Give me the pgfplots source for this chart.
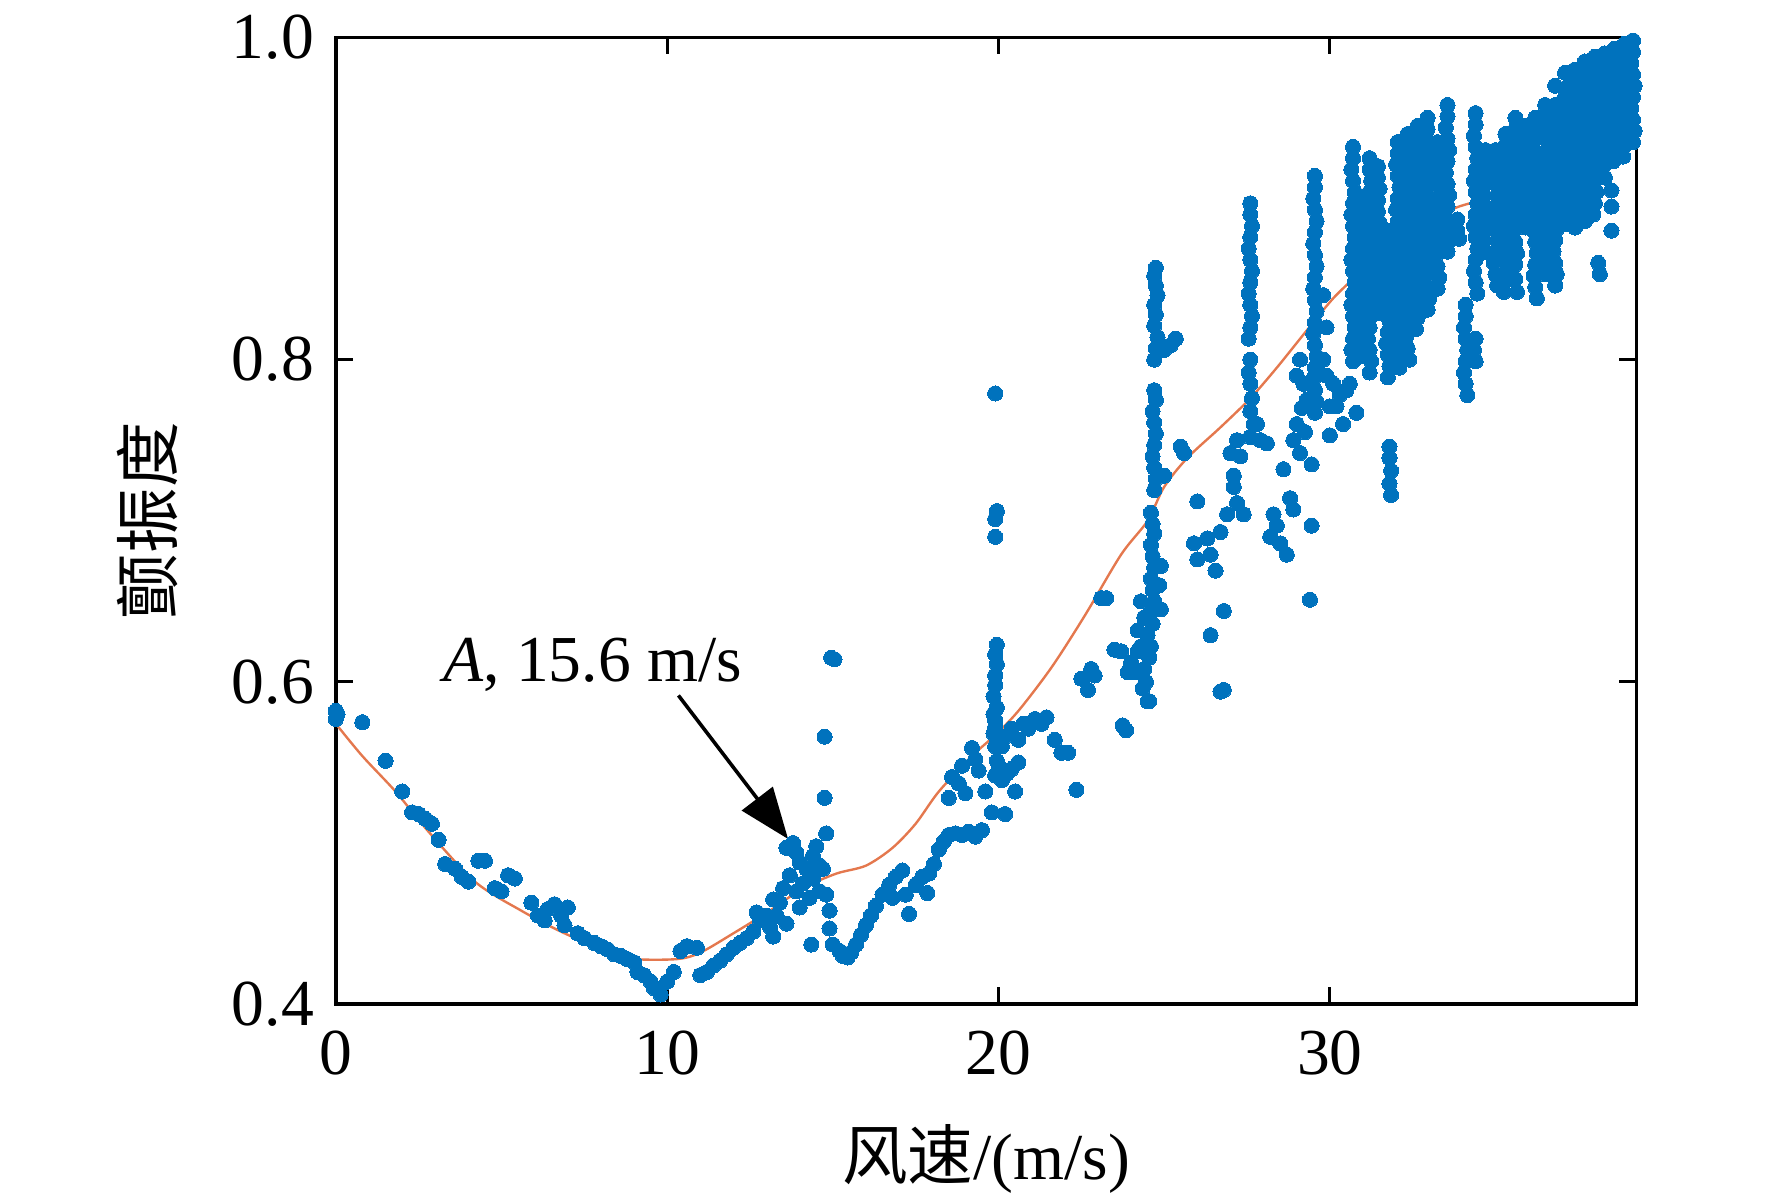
\documentclass[border=0pt]{standalone}
\usepackage{pgfplots}
\pgfplotsset{compat=1.18}
\usetikzlibrary{arrows.meta}
\usepackage{fontspec}
\setmainfont{Liberation Serif}
\newfontfamily\cjk{Noto Sans CJK SC}
\definecolor{mblue}{RGB}{0,114,189}
\definecolor{morange}{RGB}{228,120,78}
\begin{document}
\begin{tikzpicture}
\path[use as bounding box] (-29.7mm,-17.05mm) rectangle (127mm,88.8mm);
\begin{axis}[
  scale only axis, width=115mm, height=85.5mm,
  xmin=0, xmax=39.25, ymin=0.4, ymax=1.0,
  xtick={0,10,20,30}, ytick={0.4,0.6,0.8,1.0},
  yticklabel style={xshift=-0.7mm, /pgf/number format/.cd, fixed, fixed zerofill, precision=1},
  xticklabel style={yshift=-1.1mm},
  /pgf/number format/assume math mode=true,
  tick align=inside, major tick length=1.5mm,
  tick style={line width=0.8pt, black},
  axis line style={line width=0.9pt},
  tick label style={font=\fontsize{16.5}{19}\selectfont},
  label style={font=\fontsize{16.5}{19}\selectfont},
  xlabel={{\cjk 风速}/(m/s)},
  ylabel={{\cjk 颤振度}},
  xlabel style={at={(axis description cs:0.5,-0.16)}, anchor=center},
  ylabel style={at={(axis description cs:-0.145,0.5)}, anchor=center, rotate=0},
]
\addplot[only marks, mark=*, mark size=1.9pt, color=mblue, mark options={draw=mblue, fill=mblue, line width=0pt}] table[row sep=\\] {
x y\\
0 0.582\\ 0 0.577\\ 0.05 0.580\\ 0.8 0.575\\ 1.5 0.551\\ 2.0 0.532\\ 2.3 0.519\\ 2.5 0.518\\ 2.7 0.515\\ 2.9 0.512\\
3.1 0.502\\ 3.3 0.487\\ 3.6 0.484\\ 3.8 0.479\\ 4.0 0.476\\ 4.3 0.489\\ 4.5 0.489\\ 4.8 0.472\\ 5.0 0.470\\ 5.2 0.480\\
5.4 0.478\\ 5.9 0.463\\ 6.1 0.455\\ 6.3 0.452\\ 6.4 0.459\\ 6.6 0.462\\ 6.8 0.455\\ 6.9 0.449\\ 7.0 0.460\\ 7.3 0.444\\
7.5 0.441\\ 7.8 0.438\\ 8.0 0.436\\ 8.2 0.434\\ 8.4 0.431\\ 8.6 0.430\\ 8.8 0.428\\ 9.0 0.426\\ 9.1 0.420\\ 9.3 0.418\\
9.5 0.414\\ 9.6 0.410\\ 9.8 0.406\\ 10.0 0.414\\ 10.2 0.420\\ 10.4 0.433\\ 10.6 0.436\\ 10.9 0.435\\ 11.0 0.418\\ 11.2 0.420\\
11.4 0.424\\ 11.6 0.427\\ 11.8 0.431\\ 12.0 0.435\\ 12.2 0.438\\ 12.4 0.441\\ 12.6 0.445\\ 12.8 0.452\\ 12.7 0.457\\ 13.0 0.455\\
13.1 0.448\\ 13.2 0.465\\ 13.4 0.463\\
13.6 0.497\\ 13.8 0.500\\ 13.9 0.494\\ 14.0 0.488\\ 14.2 0.484\\ 14.1 0.475\\ 13.9 0.470\\ 13.7 0.480\\ 14.4 0.492\\ 14.5 0.498\\
14.6 0.486\\ 14.4 0.478\\ 14.6 0.470\\ 14.3 0.466\\ 14.0 0.460\\ 13.5 0.472\\ 13.3 0.455\\ 13.6 0.450\\ 13.2 0.442\\ 14.35 0.437\\
14.95 0.615\\ 15.05 0.614\\ 14.75 0.566\\ 14.75 0.528\\ 14.8 0.506\\ 14.7 0.484\\ 14.8 0.468\\ 14.9 0.458\\ 14.9 0.447\\
15.0 0.437\\ 15.2 0.433\\ 15.3 0.430\\ 15.45 0.429\\ 15.55 0.432\\ 15.7 0.437\\ 15.85 0.443\\ 16.0 0.449\\ 16.15 0.455\\ 16.3 0.461\\
16.5 0.468\\ 16.7 0.474\\ 16.9 0.479\\ 17.1 0.483\\ 16.8 0.466\\ 17.2 0.468\\ 17.3 0.456\\ 17.5 0.474\\ 17.7 0.479\\ 17.85 0.469\\
17.9 0.481\\ 18.05 0.487\\ 18.2 0.496\\ 18.35 0.501\\ 18.5 0.505\\ 18.7 0.506\\ 18.9 0.505\\ 19.1 0.507\\ 19.3 0.504\\ 19.5 0.508\\
18.5 0.528\\ 18.6 0.541\\ 18.8 0.537\\ 18.9 0.548\\ 19.0 0.531\\ 19.2 0.559\\ 19.3 0.552\\ 19.4 0.545\\ 19.6 0.532\\ 19.8 0.519\\
19.9 0.542\\ 19.95 0.551\\ 19.9 0.560\\ 19.85 0.568\\ 19.9 0.576\\ 19.95 0.584\\ 19.85 0.591\\ 19.9 0.598\\ 19.9 0.604\\ 19.95 0.611\\
19.9 0.617\\ 19.95 0.623\\ 19.9 0.572\\ 19.85 0.580\\ 19.9 0.690\\ 19.9 0.701\\ 19.95 0.706\\ 19.9 0.779\\
20.1 0.560\\ 20.2 0.566\\ 20.4 0.571\\ 20.6 0.564\\ 20.75 0.574\\ 20.9 0.571\\ 21.1 0.577\\ 21.3 0.574\\ 21.45 0.578\\ 20.1 0.539\\
20.25 0.543\\ 20.4 0.546\\ 20.6 0.550\\ 20.5 0.532\\ 20.2 0.518\\ 20.0 0.548\\ 21.7 0.564\\ 21.9 0.556\\ 22.1 0.556\\ 22.35 0.533\\
22.5 0.602\\ 22.7 0.595\\ 22.8 0.608\\ 22.9 0.604\\ 23.1 0.652\\ 23.25 0.652\\ 23.5 0.620\\ 23.7 0.619\\ 23.75 0.573\\ 23.85 0.570\\
23.9 0.606\\ 24.0 0.612\\ 24.1 0.606\\ 24.2 0.619\\ 24.3 0.622\\ 24.5 0.588\\
24.75 0.857\\ 24.7 0.852\\ 24.75 0.846\\ 24.8 0.840\\ 24.7 0.834\\ 24.75 0.828\\ 24.7 0.821\\ 24.8 0.814\\ 24.75 0.807\\ 24.7 0.800\\
24.7 0.781\\ 24.75 0.775\\ 24.65 0.768\\ 24.7 0.761\\ 24.75 0.754\\ 24.7 0.747\\ 24.65 0.740\\ 24.7 0.733\\ 24.75 0.726\\ 24.7 0.719\\
24.6 0.705\\ 24.65 0.698\\ 24.7 0.692\\ 24.6 0.685\\ 24.65 0.678\\ 24.7 0.671\\ 24.6 0.664\\ 24.65 0.657\\ 24.7 0.650\\ 24.6 0.643\\
24.65 0.636\\ 24.5 0.629\\ 24.6 0.622\\ 24.55 0.615\\ 24.4 0.608\\ 24.45 0.600\\ 24.35 0.596\\
24.9 0.672\\ 24.85 0.660\\ 24.9 0.645\\ 24.4 0.640\\ 24.3 0.650\\ 24.2 0.632\\ 24.55 0.588\\
25.0 0.806\\ 25.2 0.809\\ 25.35 0.813\\ 25.5 0.746\\ 25.6 0.742\\ 25.0 0.728\\
25.9 0.686\\ 26.0 0.676\\ 26.3 0.689\\ 26.4 0.679\\ 26.55 0.669\\ 26.7 0.693\\ 26.8 0.644\\ 26.4 0.629\\ 26.7 0.594\\ 26.8 0.595\\
26.9 0.704\\ 27.1 0.721\\ 27.1 0.728\\ 27.2 0.711\\ 27.4 0.704\\ 27.3 0.740\\ 27.0 0.742\\ 27.2 0.750\\ 26.0 0.712\\
27.6 0.897\\ 27.6 0.890\\ 27.65 0.883\\ 27.6 0.876\\ 27.55 0.869\\ 27.6 0.862\\ 27.65 0.855\\ 27.6 0.848\\ 27.55 0.841\\ 27.6 0.834\\
27.65 0.827\\ 27.6 0.820\\ 27.55 0.813\\ 27.6 0.800\\ 27.55 0.792\\ 27.6 0.785\\ 27.65 0.776\\ 27.6 0.768\\ 27.7 0.760\\ 27.6 0.752\\
27.8 0.760\\ 27.9 0.750\\ 28.1 0.748\\ 28.6 0.732\\ 28.3 0.704\\ 28.4 0.697\\ 28.7 0.679\\ 28.5 0.686\\ 28.9 0.707\\ 28.8 0.714\\ 28.2 0.690\\
29.0 0.790\\ 29.1 0.800\\ 29.2 0.785\\ 29.15 0.770\\ 29.0 0.760\\ 29.3 0.775\\ 29.25 0.755\\ 28.9 0.750\\ 29.1 0.742\\
29.55 0.914\\ 29.55 0.907\\ 29.5 0.900\\ 29.55 0.893\\ 29.6 0.886\\ 29.55 0.879\\ 29.5 0.872\\ 29.55 0.865\\ 29.6 0.858\\ 29.55 0.851\\
29.5 0.844\\ 29.55 0.837\\ 29.6 0.830\\ 29.55 0.823\\ 29.5 0.816\\ 29.55 0.809\\ 29.6 0.802\\ 29.55 0.795\\ 29.5 0.788\\ 29.55 0.781\\
29.6 0.774\\ 29.55 0.767\\ 29.45 0.735\\ 29.45 0.697\\ 29.4 0.651\\
29.8 0.840\\ 29.9 0.820\\ 29.8 0.800\\ 29.9 0.790\\ 30.0 0.771\\ 30.1 0.785\\ 30.2 0.771\\ 30.3 0.778\\ 30.5 0.781\\ 30.6 0.785\\
30.8 0.767\\ 30.0 0.753\\ 30.4 0.760\\
30.7 0.932\\ 30.7 0.925\\ 30.65 0.918\\ 30.7 0.911\\ 30.75 0.904\\ 30.7 0.897\\ 30.65 0.890\\ 30.7 0.883\\ 30.75 0.876\\ 30.7 0.869\\
30.65 0.862\\ 30.7 0.855\\ 30.75 0.848\\ 30.7 0.841\\ 30.65 0.834\\ 30.7 0.827\\ 30.75 0.820\\ 30.7 0.813\\ 30.65 0.806\\ 30.7 0.799\\
30.95 0.900\\ 30.95 0.893\\ 31.0 0.886\\ 30.95 0.879\\ 30.95 0.872\\ 31.0 0.865\\ 30.95 0.858\\ 30.95 0.851\\ 31.0 0.844\\ 30.95 0.837\\
30.95 0.830\\ 31.0 0.823\\ 30.95 0.816\\ 30.95 0.809\\ 31.0 0.802\\
31.2 0.925\\ 31.2 0.918\\ 31.25 0.911\\ 31.2 0.904\\ 31.15 0.897\\ 31.2 0.890\\ 31.25 0.883\\ 31.2 0.876\\ 31.15 0.869\\ 31.2 0.862\\
31.25 0.855\\ 31.2 0.848\\ 31.15 0.841\\ 31.2 0.834\\ 31.25 0.827\\ 31.2 0.820\\ 31.15 0.813\\ 31.2 0.806\\ 31.25 0.799\\ 31.2 0.792\\
31.45 0.920\\ 31.45 0.913\\ 31.5 0.906\\ 31.45 0.899\\ 31.45 0.892\\ 31.5 0.885\\ 31.45 0.878\\ 31.45 0.871\\ 31.5 0.864\\ 31.45 0.857\\
31.45 0.850\\ 31.5 0.843\\ 31.45 0.836\\ 31.45 0.829\\
31.75 0.880\\ 31.75 0.873\\ 31.7 0.866\\ 31.75 0.859\\ 31.8 0.852\\ 31.75 0.845\\ 31.7 0.838\\ 31.75 0.831\\ 31.8 0.824\\ 31.75 0.817\\
31.7 0.810\\ 31.75 0.803\\ 31.8 0.796\\ 31.75 0.789\\ 31.8 0.746\\ 31.8 0.739\\ 31.85 0.731\\ 31.8 0.723\\ 31.85 0.716\\
32.05 0.935\\ 32.05 0.928\\ 32.0 0.921\\ 32.05 0.914\\ 32.1 0.907\\ 32.05 0.900\\ 32.0 0.893\\ 32.05 0.886\\ 32.1 0.879\\ 32.05 0.872\\
32.0 0.865\\ 32.05 0.858\\ 32.1 0.851\\ 32.05 0.844\\ 32.0 0.837\\ 32.05 0.830\\ 32.1 0.823\\ 32.05 0.816\\ 32.0 0.809\\ 32.05 0.802\\ 32.1 0.795\\
32.35 0.940\\ 32.35 0.933\\ 32.3 0.926\\ 32.35 0.919\\ 32.4 0.912\\ 32.35 0.905\\ 32.3 0.898\\ 32.35 0.891\\ 32.4 0.884\\ 32.35 0.877\\
32.3 0.870\\ 32.35 0.863\\ 32.4 0.856\\ 32.35 0.849\\ 32.3 0.842\\ 32.35 0.835\\ 32.4 0.828\\ 32.35 0.821\\ 32.3 0.814\\ 32.35 0.807\\ 32.4 0.800\\
32.65 0.945\\ 32.65 0.938\\ 32.6 0.931\\ 32.65 0.924\\ 32.7 0.917\\ 32.65 0.910\\ 32.6 0.903\\ 32.65 0.896\\ 32.7 0.889\\ 32.65 0.882\\
32.6 0.875\\ 32.65 0.868\\ 32.7 0.861\\ 32.65 0.854\\ 32.6 0.847\\ 32.65 0.840\\ 32.7 0.833\\ 32.65 0.826\\ 32.6 0.819\\
32.95 0.950\\ 32.95 0.943\\ 32.9 0.936\\ 32.95 0.929\\ 33.0 0.922\\ 32.95 0.915\\ 32.9 0.908\\ 32.95 0.901\\ 33.0 0.894\\ 32.95 0.887\\
32.9 0.880\\ 32.95 0.873\\ 33.0 0.866\\ 32.95 0.859\\ 32.9 0.852\\ 32.95 0.845\\ 33.0 0.838\\ 32.95 0.831\\
33.25 0.935\\ 33.25 0.928\\ 33.2 0.921\\ 33.25 0.914\\ 33.3 0.907\\ 33.25 0.900\\ 33.2 0.893\\ 33.25 0.886\\ 33.3 0.879\\ 33.25 0.872\\
33.2 0.865\\ 33.25 0.858\\ 33.3 0.851\\ 33.25 0.844\\
33.55 0.958\\ 33.55 0.951\\ 33.5 0.944\\ 33.55 0.937\\ 33.6 0.930\\ 33.55 0.923\\ 33.5 0.916\\ 33.55 0.909\\ 33.6 0.902\\ 33.55 0.895\\
33.5 0.888\\ 33.55 0.881\\ 33.6 0.874\\ 33.55 0.867\\
33.85 0.887\\ 33.85 0.880\\ 33.9 0.875\\
34.1 0.834\\ 34.1 0.827\\ 34.05 0.820\\ 34.1 0.813\\ 34.15 0.806\\ 34.1 0.799\\ 34.05 0.792\\ 34.1 0.785\\ 34.15 0.778\\
34.4 0.953\\ 34.4 0.946\\ 34.35 0.939\\ 34.4 0.932\\ 34.45 0.925\\ 34.4 0.918\\ 34.35 0.911\\ 34.4 0.904\\ 34.45 0.897\\ 34.4 0.890\\
34.35 0.883\\ 34.4 0.876\\ 34.45 0.869\\ 34.4 0.862\\ 34.35 0.855\\ 34.4 0.848\\ 34.45 0.841\\ 34.4 0.813\\ 34.35 0.806\\ 34.4 0.799\\
34.7 0.930\\ 34.7 0.923\\ 34.75 0.916\\ 34.7 0.909\\ 34.65 0.902\\ 34.7 0.895\\ 34.75 0.888\\ 34.7 0.881\\ 34.65 0.874\\ 34.7 0.867\\
35.0 0.930\\ 35.0 0.923\\ 34.95 0.916\\ 35.0 0.909\\ 35.05 0.902\\ 35.0 0.895\\ 34.95 0.888\\ 35.0 0.881\\ 35.05 0.874\\ 35.0 0.867\\
34.95 0.860\\ 35.0 0.853\\ 35.05 0.846\\
35.3 0.940\\ 35.3 0.933\\ 35.25 0.926\\ 35.3 0.919\\ 35.35 0.912\\ 35.3 0.905\\ 35.25 0.898\\ 35.3 0.891\\ 35.35 0.884\\ 35.3 0.877\\
35.25 0.870\\ 35.3 0.863\\ 35.35 0.856\\ 35.3 0.849\\ 35.25 0.842\\
35.6 0.950\\ 35.6 0.943\\ 35.55 0.936\\ 35.6 0.929\\ 35.65 0.922\\ 35.6 0.915\\ 35.55 0.908\\ 35.6 0.901\\ 35.65 0.894\\ 35.6 0.887\\
35.55 0.880\\ 35.6 0.873\\ 35.65 0.866\\ 35.6 0.859\\ 35.6 0.850\\ 35.65 0.842\\
35.9 0.945\\ 35.9 0.938\\ 35.85 0.931\\ 35.9 0.924\\ 35.95 0.917\\ 35.9 0.910\\ 35.85 0.903\\ 35.9 0.896\\ 35.95 0.889\\ 35.9 0.882\\
36.2 0.950\\ 36.2 0.943\\ 36.15 0.936\\ 36.2 0.929\\ 36.25 0.922\\ 36.2 0.915\\ 36.15 0.908\\ 36.2 0.901\\ 36.25 0.894\\ 36.2 0.887\\
36.15 0.880\\ 36.2 0.873\\ 36.25 0.866\\ 36.2 0.859\\ 36.15 0.852\\ 36.2 0.845\\ 36.25 0.838\\
36.5 0.958\\ 36.5 0.951\\ 36.45 0.944\\ 36.5 0.937\\ 36.55 0.930\\ 36.5 0.923\\ 36.45 0.916\\ 36.5 0.909\\ 36.55 0.902\\ 36.5 0.895\\
36.45 0.888\\ 36.5 0.881\\ 36.55 0.874\\ 36.5 0.867\\ 36.45 0.860\\ 36.5 0.853\\
36.8 0.970\\ 36.8 0.958\\ 36.75 0.951\\ 36.8 0.944\\ 36.85 0.937\\ 36.8 0.930\\ 36.75 0.923\\ 36.8 0.916\\ 36.85 0.909\\ 36.8 0.902\\
36.75 0.895\\ 36.8 0.888\\ 36.85 0.881\\ 36.8 0.874\\ 36.75 0.867\\ 36.8 0.860\\ 36.85 0.853\\ 36.8 0.846\\
37.1 0.978\\ 37.1 0.968\\ 37.05 0.961\\ 37.1 0.954\\ 37.15 0.947\\ 37.1 0.940\\ 37.05 0.933\\ 37.1 0.926\\ 37.15 0.919\\ 37.1 0.912\\
37.05 0.905\\ 37.1 0.898\\ 37.15 0.891\\ 37.1 0.884\\
37.4 0.980\\ 37.4 0.973\\ 37.35 0.966\\ 37.4 0.959\\ 37.45 0.952\\ 37.4 0.945\\ 37.35 0.938\\ 37.4 0.931\\ 37.45 0.924\\ 37.4 0.917\\
37.35 0.910\\ 37.4 0.903\\ 37.45 0.896\\ 37.4 0.889\\ 37.4 0.882\\
37.7 0.985\\ 37.7 0.978\\ 37.65 0.971\\ 37.7 0.964\\ 37.75 0.957\\ 37.7 0.950\\ 37.65 0.943\\ 37.7 0.936\\ 37.75 0.929\\ 37.7 0.922\\
37.65 0.915\\ 37.7 0.908\\ 37.75 0.901\\ 37.7 0.894\\ 37.7 0.886\\
38.0 0.988\\ 38.0 0.981\\ 37.95 0.974\\ 38.0 0.967\\ 38.05 0.960\\ 38.0 0.953\\ 37.95 0.946\\ 38.0 0.939\\ 38.05 0.932\\ 38.0 0.925\\
37.95 0.918\\ 38.0 0.911\\ 38.05 0.904\\ 38.0 0.897\\ 37.95 0.890\\ 38.1 0.860\\ 38.15 0.853\\
38.3 0.990\\ 38.3 0.983\\ 38.25 0.976\\ 38.3 0.969\\ 38.35 0.962\\ 38.3 0.955\\ 38.25 0.948\\ 38.3 0.941\\ 38.35 0.934\\ 38.3 0.927\\
38.25 0.920\\ 38.3 0.913\\
38.6 0.993\\ 38.6 0.986\\ 38.55 0.979\\ 38.6 0.972\\ 38.65 0.965\\ 38.6 0.958\\ 38.55 0.951\\ 38.6 0.944\\ 38.65 0.937\\ 38.6 0.930\\
38.55 0.923\\ 38.5 0.905\\ 38.5 0.895\\ 38.5 0.880\\
38.9 0.996\\ 38.9 0.989\\ 38.85 0.982\\ 38.9 0.975\\ 38.95 0.968\\ 38.9 0.961\\ 38.85 0.954\\ 38.9 0.947\\ 38.95 0.940\\ 38.9 0.933\\
38.85 0.926\\
39.15 0.998\\ 39.15 0.991\\ 39.1 0.984\\ 39.15 0.977\\ 39.2 0.970\\ 39.15 0.963\\ 39.1 0.956\\ 39.15 0.949\\ 39.2 0.942\\ 39.15 0.935\\
};
\addplot[smooth, color=morange, line width=0.6pt] coordinates {
(0,0.574) (0.8,0.554) (1.8,0.532) (2.8,0.507) (4.2,0.476) (5.6,0.458) (6.9,0.444) (8.3,0.432) (9.0,0.428) (10.3,0.428)
(11.0,0.432) (12.0,0.444) (13.1,0.458) (14.1,0.472) (15.1,0.481) (16.0,0.486) (16.8,0.497) (17.5,0.512) (18.2,0.532)
(19.2,0.554) (19.9,0.567) (20.6,0.582) (21.6,0.609) (22.6,0.641) (23.7,0.679) (24.5,0.700) (25.0,0.721) (25.7,0.739)
(26.7,0.758) (27.6,0.776) (28.4,0.795) (29.3,0.818) (30.1,0.838) (30.8,0.852) (31.6,0.868) (32.4,0.881) (33.1,0.888) (33.9,0.895)
(34.9,0.901) (35.9,0.910) (37.05,0.927) (37.6,0.940) (38.2,0.955) (39.25,0.983)
};
\draw[-{Triangle[length=4.5mm,width=3.4mm]}, line width=0.9pt] (axis cs:10.34,0.5916) -- (axis cs:13.65,0.5025);
\node[font=\fontsize{16.5}{19}\selectfont] at (axis cs:7.75,0.6105) {\textit{A}, 15.6 m/s};
\end{axis}
\end{tikzpicture}
\end{document}
